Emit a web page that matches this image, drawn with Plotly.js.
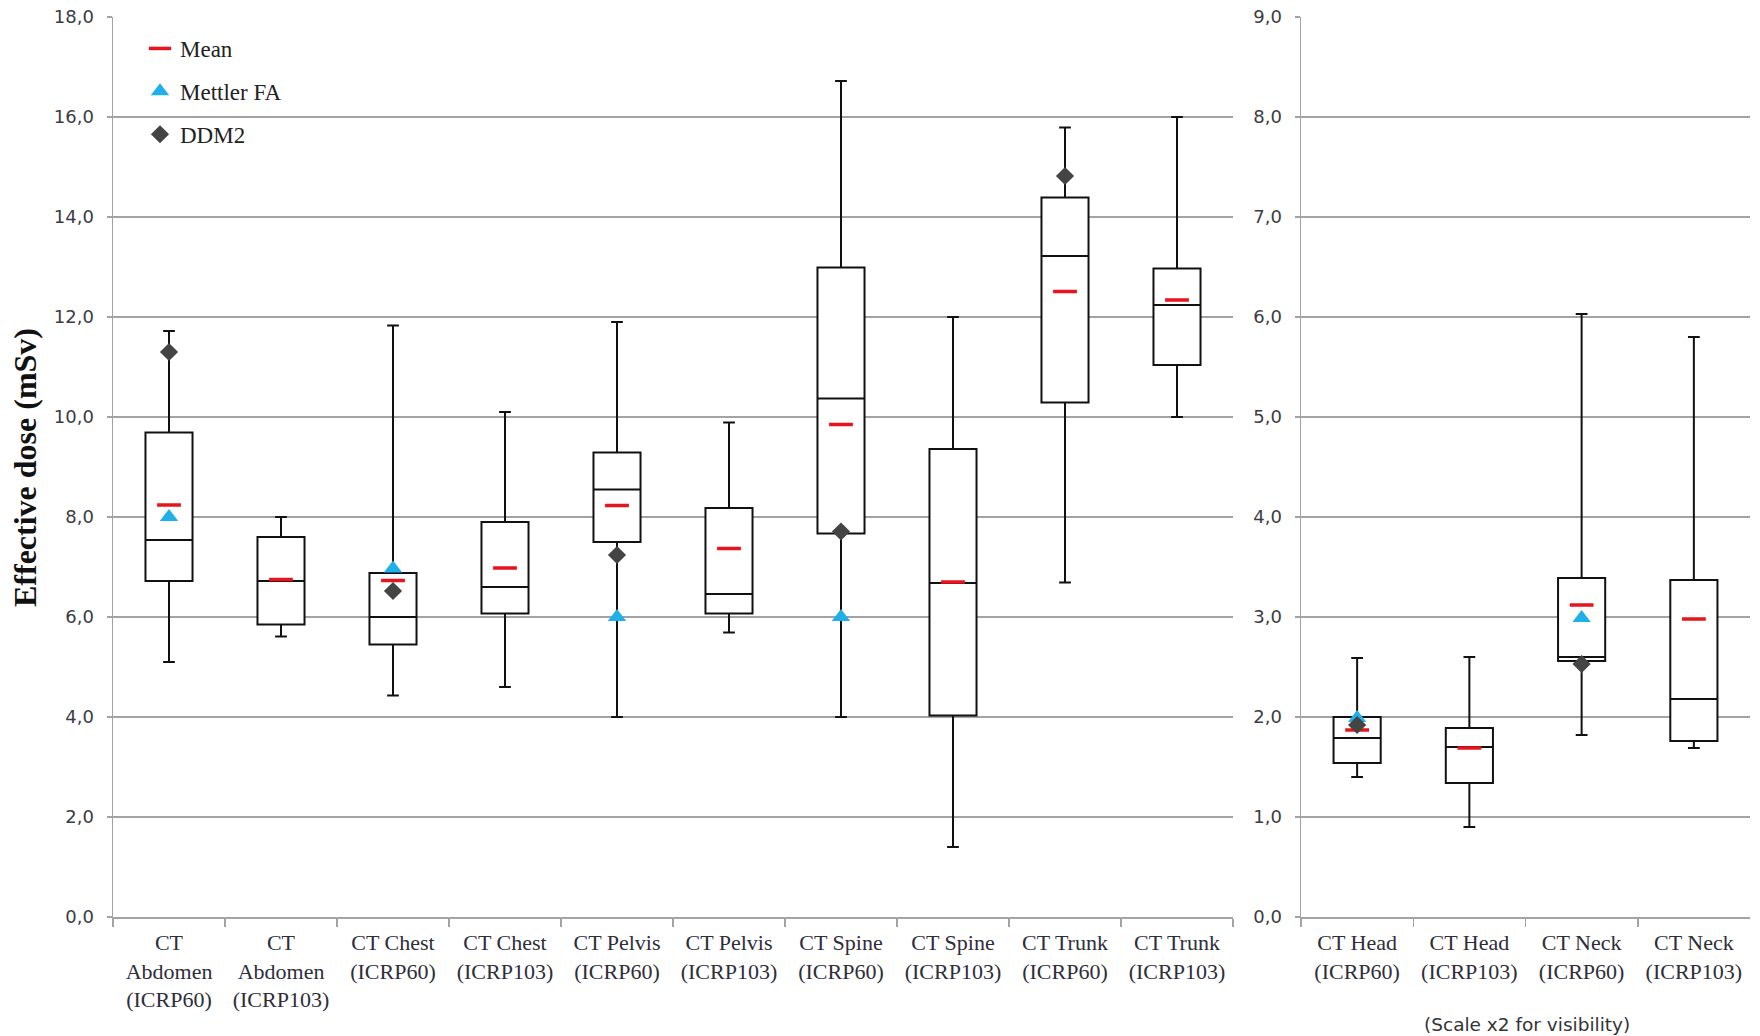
<!DOCTYPE html>
<html>
<head>
<meta charset="utf-8">
<script src="https://cdn.plot.ly/plotly-3.0.1.min.js"></script>
<style>html,body{margin:0;padding:0;background:#fff}#chart{width:1760px;height:1036px}</style>
</head>
<body>
<div id="chart"></div>
<script>
// ---- Data (left panel, mSv) ----
const leftCats = ['CT<br>Abdomen<br>(ICRP60)', 'CT<br>Abdomen<br>(ICRP103)', 'CT Chest<br>(ICRP60)', 'CT Chest<br>(ICRP103)',
  'CT Pelvis<br>(ICRP60)', 'CT Pelvis<br>(ICRP103)', 'CT Spine<br>(ICRP60)', 'CT Spine<br>(ICRP103)',
  'CT Trunk<br>(ICRP60)', 'CT Trunk<br>(ICRP103)'];
const leftLower  = [5.10, 5.61, 4.43, 4.60, 4.00, 5.69, 4.00, 1.40, 6.69, 10.00];
const leftQ1     = [6.72, 5.85, 5.45, 6.07, 7.50, 6.07, 7.67, 4.03, 10.29, 11.04];
const leftMedian = [7.54, 6.72, 6.00, 6.60, 8.55, 6.46, 10.37, 6.68, 13.22, 12.24];
const leftQ3     = [9.69, 7.60, 6.88, 7.90, 9.29, 8.18, 12.99, 9.36, 14.39, 12.97];
const leftUpper  = [11.72, 8.00, 11.83, 10.10, 11.90, 9.89, 16.72, 12.00, 15.79, 16.00];
const leftMean   = [8.24, 6.75, 6.73, 6.98, 8.23, 7.37, 9.85, 6.70, 12.51, 12.34];
const leftMettler = [8.00, null, 6.97, null, 6.00, null, 6.00, null, null, null];
const leftDDM2    = [11.30, null, 6.52, null, 7.24, null, 7.71, null, 14.82, null];

// ---- Data (right panel, scale x2) ----
const rightCats = ['CT Head<br>(ICRP60)', 'CT Head<br>(ICRP103)', 'CT Neck<br>(ICRP60)', 'CT Neck<br>(ICRP103)'];
const rightLower  = [1.40, 0.90, 1.82, 1.69];
const rightQ1     = [1.54, 1.34, 2.56, 1.76];
const rightMedian = [1.79, 1.70, 2.60, 2.18];
const rightQ3     = [2.00, 1.89, 3.39, 3.37];
const rightUpper  = [2.59, 2.60, 6.03, 5.80];
const rightMean   = [1.87, 1.69, 3.12, 2.98];
const rightMettler = [1.99, null, 2.99, null];
const rightDDM2    = [1.92, null, 2.53, null];

const yTickLeft = [0, 2, 4, 6, 8, 10, 12, 14, 16, 18];
const yTickRight = [0, 1, 2, 3, 4, 5, 6, 7, 8, 9];

// ---- Styles ----
const gridCol = '#a3a3a3';
const tickFont = {family: 'DejaVu Sans, Verdana, sans-serif', size: 18, color: '#3c3c44'};
const catFont = {family: 'Liberation Serif, Times New Roman, serif', size: 22, color: '#2e2e3a'};
const boxStyle = {type: 'box', fillcolor: '#ffffff', line: {color: '#111111', width: 2},
  width: 0.42, whiskerwidth: 0.25, showlegend: false, hoverinfo: 'skip', boxpoints: false};
const meanMarker = {symbol: 'line-ew', size: 17, color: '#e8141c', line: {color: '#e8141c', width: 3.5}};
const mettlerMarker = {symbol: 'triangle-up', size: 16, color: '#1fb0ea', line: {width: 0}};
const ddmMarker = {symbol: 'diamond', size: 14, color: '#444444', line: {width: 0}};

const traces = [
  Object.assign({x: leftCats, q1: leftQ1, median: leftMedian, q3: leftQ3, lowerfence: leftLower, upperfence: leftUpper,
    xaxis: 'x', yaxis: 'y'}, boxStyle),
  Object.assign({x: rightCats, q1: rightQ1, median: rightMedian, q3: rightQ3, lowerfence: rightLower, upperfence: rightUpper,
    xaxis: 'x2', yaxis: 'y2'}, boxStyle),
  {type: 'scatter', mode: 'markers', name: 'Mean', legendgroup: 'mean', x: leftCats, y: leftMean,
    marker: meanMarker, xaxis: 'x', yaxis: 'y', hoverinfo: 'skip'},
  {type: 'scatter', mode: 'markers', name: 'Mettler FA', legendgroup: 'mettler', x: leftCats, y: leftMettler,
    marker: mettlerMarker, xaxis: 'x', yaxis: 'y', hoverinfo: 'skip'},
  {type: 'scatter', mode: 'markers', name: 'DDM2', legendgroup: 'ddm', x: leftCats, y: leftDDM2,
    marker: ddmMarker, xaxis: 'x', yaxis: 'y', hoverinfo: 'skip'},
  {type: 'scatter', mode: 'markers', name: 'Mean', legendgroup: 'mean', showlegend: false, x: rightCats, y: rightMean,
    marker: meanMarker, xaxis: 'x2', yaxis: 'y2', hoverinfo: 'skip'},
  {type: 'scatter', mode: 'markers', name: 'Mettler FA', legendgroup: 'mettler', showlegend: false, x: rightCats, y: rightMettler,
    marker: mettlerMarker, xaxis: 'x2', yaxis: 'y2', hoverinfo: 'skip'},
  {type: 'scatter', mode: 'markers', name: 'DDM2', legendgroup: 'ddm', showlegend: false, x: rightCats, y: rightDDM2,
    marker: ddmMarker, xaxis: 'x2', yaxis: 'y2', hoverinfo: 'skip'}
];

const W = 1760, H = 1036;
const yDom = [1 - 917 / H, 1 - 17 / H];
const xAxisBase = {type: 'category', tickson: 'boundaries', ticks: 'outside', ticklen: 8, tickwidth: 1.5,
  tickcolor: gridCol, showline: true, linecolor: gridCol, linewidth: 1.5, showgrid: false, zeroline: false,
  tickfont: catFont, tickangle: 0, ticklabelstandoff: 5, fixedrange: true};
const yAxisBase = {tickformat: '.1f', ticks: 'outside', ticklen: 5, tickwidth: 1.5, tickcolor: gridCol,
  showline: true, linecolor: gridCol, linewidth: 1.5, showgrid: true, gridcolor: gridCol, gridwidth: 1.5,
  zeroline: false, tickfont: tickFont, domain: yDom, tickmode: 'array', ticklabelstandoff: 9, fixedrange: true};

const layout = {
  width: W, height: H, margin: {l: 0, r: 0, t: 0, b: 0}, paper_bgcolor: '#ffffff', plot_bgcolor: '#ffffff',
  separators: ', ', showlegend: true,
  legend: {x: 140 / W, y: 1 - 27 / H, xanchor: 'left', yanchor: 'top', bgcolor: 'rgba(0,0,0,0)',
    font: {family: 'Liberation Serif, Times New Roman, serif', size: 23, color: '#222222'},
    traceorder: 'grouped', tracegroupgap: 10, itemwidth: 30},
  xaxis: Object.assign({domain: [113 / W, 1233 / W], anchor: 'y', range: [-0.5, 9.5]}, xAxisBase),
  yaxis: Object.assign({anchor: 'x', range: [0, 18], tickvals: yTickLeft}, yAxisBase),
  xaxis2: Object.assign({domain: [1301 / W, 1750 / W], anchor: 'y2', range: [-0.5, 3.5]}, xAxisBase),
  yaxis2: Object.assign({anchor: 'x2', range: [0, 9], tickvals: yTickRight}, yAxisBase),
  annotations: [
    {text: '<b>Effective dose (mSv)</b>', xref: 'paper', yref: 'paper', x: 25 / W, y: 1 - 468 / H,
      textangle: -90, showarrow: false, xanchor: 'center', yanchor: 'middle',
      font: {family: 'Liberation Serif, Times New Roman, serif', size: 32, color: '#111111'}},
    {text: '(Scale x2 for visibility)', xref: 'paper', yref: 'paper', x: 1527 / W, y: 1 - 1024 / H,
      showarrow: false, xanchor: 'center', yanchor: 'middle',
      font: {family: 'DejaVu Sans, Verdana, sans-serif', size: 18.5, color: '#333333'}}
  ]
};

Plotly.newPlot('chart', traces, layout, {displayModeBar: false, staticPlot: true});
</script>
</body>
</html>
